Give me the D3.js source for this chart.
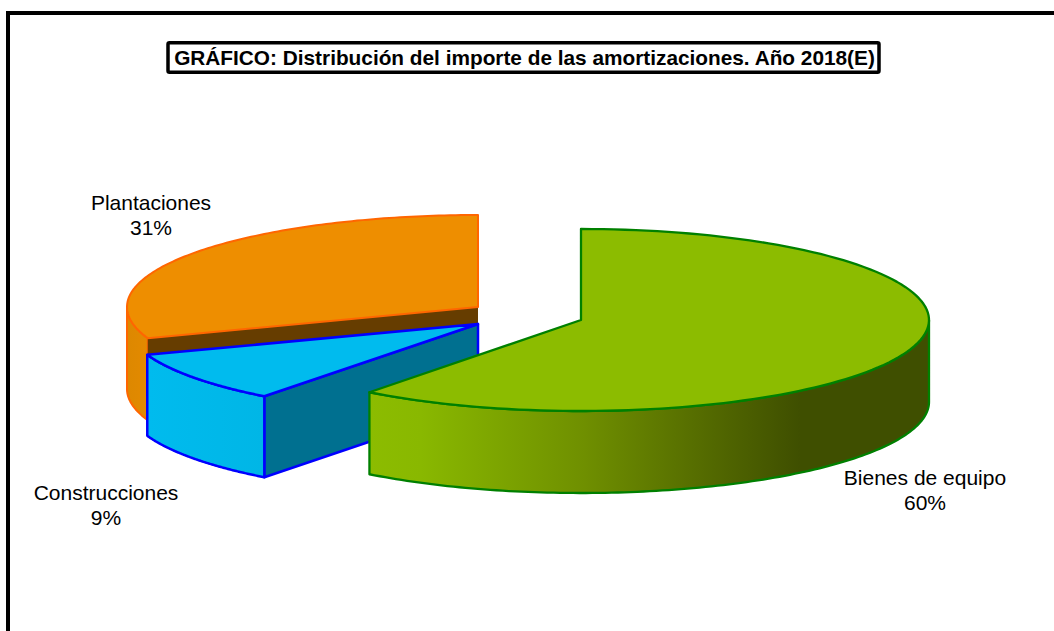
<!DOCTYPE html>
<html><head><meta charset="utf-8">
<script src="https://cdn.jsdelivr.net/npm/d3@7/dist/d3.min.js"></script>
<style>html,body{margin:0;padding:0;background:#fff}svg{display:block}text{font-family:"Liberation Sans",Arial,sans-serif;fill:#000}</style>
</head><body><svg id="c" width="1054" height="631"></svg>
<script>
const categories = ["Bienes de equipo", "Construcciones", "Plantaciones"];
const shares = [60.4, 9.1, 30.5];
const titleText = "GRÁFICO: Distribución del importe de las amortizaciones. Año 2018(E)";

const svg = d3.select("#c");
const defs = svg.append("defs");
const layout = [
  {cx:581, cy:320, rx:348, ry:91, depth:82, top:"#8CBC00", stroke:"#008000", side:"#3F4F00", lw:2.3, lx:925, ly:485},
  {cx:478, cy:324, rx:351.5, ry:91, depth:81, top:"#00BBEE", stroke:"#0000FF", side:"#007090", lw:2.5, lx:106, ly:500},
  {cx:478, cy:307, rx:351, ry:92, depth:82, top:"#EE8E00", stroke:"#FF6600", side:"#663D00", lw:2, lx:151, ly:210}
];
const arcs = d3.pie().sort(null).value(d=>d).startAngle(0).endAngle(2*Math.PI)(shares);
const line = d3.line().x(d=>d[0]).y(d=>d[1]);
const pt = (L,a,dy=0)=>[L.cx+L.rx*Math.sin(a), L.cy-L.ry*Math.cos(a)+dy];
const rim = (L,a0,a1,dy=0)=>d3.range(0,121).map(i=>pt(L,a0+(a1-a0)*i/120,dy));

function grad(id,x0,x1,stops){
  const g=defs.append("linearGradient").attr("id",id).attr("gradientUnits","userSpaceOnUse")
    .attr("x1",x0).attr("x2",x1).attr("y1",0).attr("y2",0);
  stops.forEach(s=>g.append("stop").attr("offset",s[0]).attr("stop-color",s[1]));
}
grad("gGreen",369,800,[[0,"#8CBC00"],[0.12,"#89B800"],[0.5,"#6F8F00"],[0.8,"#526800"],[1,"#3F4F00"]]);
grad("gOrange",127,150,[[0,"#DD8800"],[1,"#E48A00"]]);
grad("gBlue",148,264,[[0,"#00BBEE"],[1,"#00B6E6"]]);

function face(points,fill,L){
  svg.append("path").attr("d",line(points)+"Z").attr("fill",fill)
    .attr("stroke",L.stroke).attr("stroke-width",L.lw).attr("stroke-linejoin","round");
}
function centre(L,dy=0){return [L.cx,L.cy+dy];}

// Plantaciones
{
  const L=layout[2], a=arcs[2];
  face([...rim(L,a.startAngle,1.5*Math.PI),...rim(L,1.5*Math.PI,a.startAngle,L.depth)],"url(#gOrange)",L);
  svg.append("path").attr("d",line([centre(L),pt(L,a.startAngle),pt(L,a.startAngle,L.depth),centre(L,L.depth)])+"Z").attr("fill",L.side);
  face([centre(L),...rim(L,a.startAngle,a.endAngle)],L.top,L);
}
// Construcciones
{
  const L=layout[1], a=arcs[1];
  face([centre(L),pt(L,a.startAngle),pt(L,a.startAngle,L.depth),centre(L,L.depth)],L.side,L);
  face([...rim(L,a.startAngle,a.endAngle),...rim(L,a.endAngle,a.startAngle,L.depth)],"url(#gBlue)",L);
  face([centre(L),...rim(L,a.startAngle,a.endAngle)],L.top,L);
}
// Bienes de equipo
{
  const L=layout[0], a=arcs[0];
  face([...rim(L,Math.PI/2,a.endAngle),...rim(L,a.endAngle,Math.PI/2,L.depth)],"url(#gGreen)",L);
  face([centre(L),...rim(L,a.startAngle,a.endAngle)],L.top,L);
}

// Frame and title
svg.append("rect").attr("x",8).attr("y",13).attr("width",1100).attr("height",700)
  .attr("fill","none").attr("stroke","#000").attr("stroke-width",4);
svg.append("rect").attr("x",168).attr("y",42.7).attr("width",711).attr("height",29.6).attr("rx",1.5)
  .attr("fill","#fff").attr("stroke","#000").attr("stroke-width",3.5);
svg.append("text").attr("x",524.5).attr("y",65).attr("text-anchor","middle")
  .attr("font-size",20.8).attr("font-weight","bold").text(titleText);

// Labels
categories.forEach((c,i)=>{
  const L=layout[i];
  const t=svg.append("text").attr("text-anchor","middle").attr("font-size",21);
  t.append("tspan").attr("x",L.lx).attr("y",L.ly).text(c);
  t.append("tspan").attr("x",L.lx).attr("y",L.ly+24.5).text(d3.format(".0f")(shares[i])+"%");
});
</script></body></html>
